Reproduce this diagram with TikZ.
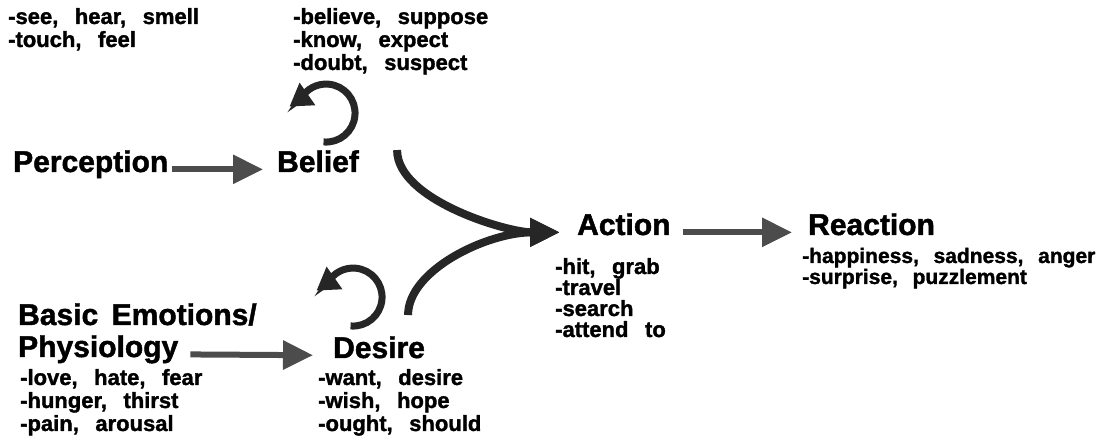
\documentclass[tikz,border=0pt]{standalone}
\usepackage{fontspec}
\setmainfont{Liberation Sans}[BoldFeatures={FakeBold=1.5}]
\usetikzlibrary{arrows.meta}

\newcommand\headfont{\fontsize{30}{31}\selectfont\bfseries\spaceskip=.45em\relax}
\newcommand\listfont{\fontsize{22}{23}\selectfont\bfseries\spaceskip=.75em\relax}
\newcommand\narrowlistfont{\fontsize{21}{23}\selectfont\bfseries\spaceskip=.7em\relax}

\tikzset{
  head/.style={font=\headfont, inner sep=0pt, anchor=base west},
  items/.style={font=\listfont, inner sep=0pt, anchor=base west, align=left},
  flow/.style={line width=6pt, black!70, -{Triangle[length=30pt,width=28pt]}},
  swoop/.style={line width=8pt, black!85, -{Triangle[length=30pt,width=27pt]}},
  selfturn/.style={line width=7pt, black!85, -{Triangle[length=22pt,width=26pt]}}
}

\begin{document}
\begin{tikzpicture}[x=1pt,y=1pt]
\useasboundingbox (0,0) rectangle (1111,441);

% Perception
\node[items] (seelist) at (8,394) {-see, hear, smell\\-touch, feel};
\node[head] (perception) at (13,269) {Perception};

% Belief
\node[items] (belieflist) at (293,371) {-believe, suppose\\-know, expect\\-doubt, suspect};
\node[head] (belief) at (277,269) {Belief};
\coordinate (beliefturn) at ([shift={(8,37)}]belief.north);
\draw[selfturn] ([shift={(-95:29)}]beliefturn) arc[start angle=-95,end angle=150,radius=29] -- ++(215:14);

% Basic emotions
\node[head] (emotions) at (18,116) {Basic Emotions/};
\node[head] (physiology) at (18,84) {Physiology};
\node[items] (emotionlist) at (20,10) {-love, hate, fear\\-hunger, thirst\\-pain, arousal};

% Desire
\node[head] (desire) at (333,83) {Desire};
\node[items] (desirelist) at (318,10) {-want, desire\\-wish, hope\\-ought, should};
\coordinate (desireturn) at ([shift={(-26,39)}]desire.north);
\draw[selfturn] ([shift={(-95:29)}]desireturn) arc[start angle=-95,end angle=150,radius=29] -- ++(215:14);

% Action
\node[head] (action) at (577,206) {Action};
\node[items] (actionlist) at (555,104) {-hit, grab\\[-2pt]-travel\\[-2pt]-search\\[-2pt]-attend to};

% Reaction
\node[head] (reaction) at (808,206) {Reaction};
\node[items, font=\narrowlistfont] (reactionlist) at (802,157) {-happiness, sadness, anger\\[-2pt]-surprise, puzzlement};

% straight arrows
\draw[flow, shorten <=4pt, shorten >=14pt] (perception.mid east) -- (belief.mid west);
\draw[flow, shorten <=12pt, shorten >=20pt] (physiology.mid east) -- (desire.mid west);
\draw[flow, shorten <=12pt, shorten >=16pt] (action.mid east) -- (reaction.mid west);

% curved arrows into action
\coordinate (beliefout) at ([xshift=38pt]belief.north east);
\coordinate (desireout) at ([xshift=29pt,yshift=21pt]desire.north);
\draw[swoop, shorten >=17pt] (desireout) .. controls +(0,45) and +(-90,0) .. (action.mid west);
\draw[swoop, shorten >=17pt] (beliefout) .. controls +(0,-50) and +(-70,0) .. (action.mid west);

\end{tikzpicture}
\end{document}
